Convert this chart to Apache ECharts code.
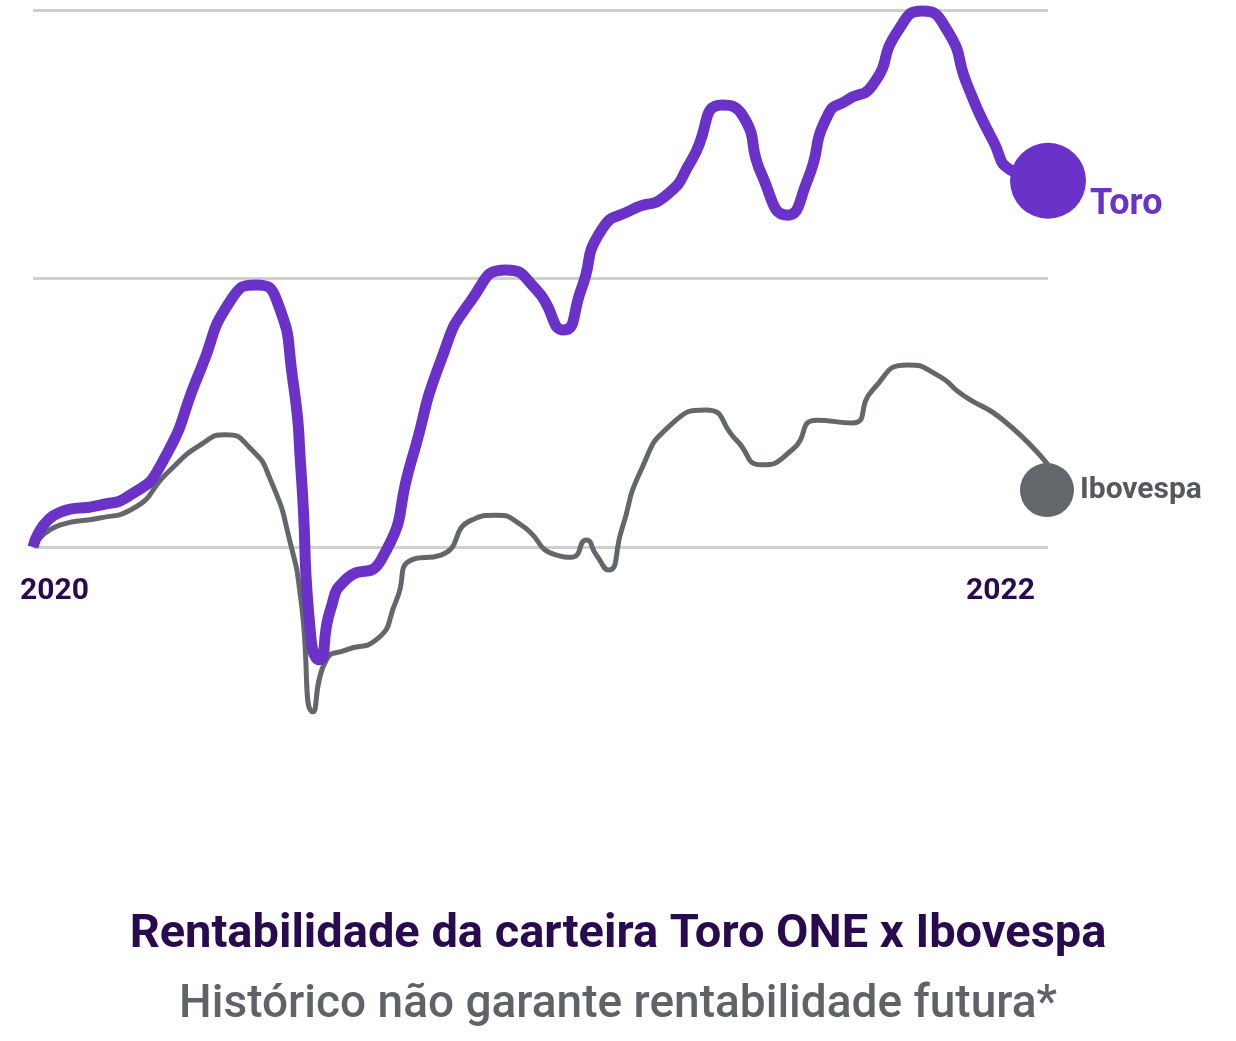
<!DOCTYPE html>
<html><head><meta charset="utf-8">
<script src="https://cdn.jsdelivr.net/npm/echarts@6/dist/echarts.min.js"></script>
<style>html,body{margin:0;padding:0;background:#fff}#c{width:1236px;height:1041px}</style>
</head><body><div id="c"></div>
<script>
// x positions (0..100 across the plot), y values (0 bottom gridline, 100 top gridline)
const toroX = [0,2.7,6.6,9.6,12.6,16.5,19.5,22.0,24.0,25.6,26.4,27.4,28.2,29.3,30.8,34.3,37.3,40.2,43.2,46.6,49.6,52.3,54.0,56.0,59.0,62.4,64.9,67.9,69.9,71.8,74.3,76.3,78.3,80.2,82.7,85.2,87.6,90.1,92.1,94.6,96.5,100];
const toroY = [0,6.5,7.8,9.7,15.3,33.0,46.0,48.8,46.0,31.1,14.3,-17.3,-21.0,-11.7,-6.1,-2.4,16.2,34.8,46.0,51.6,47.9,40.4,47.9,59.0,62.8,65.5,72.1,82.3,80.4,69.3,61.8,68.3,80.4,83.2,86.0,96.1,99.8,96.1,85.8,75.6,70.0,68.2];
const iboX = [0,2.7,6.6,9.6,13.5,16.5,19.0,21.4,23.4,25.4,26.4,27.6,28.9,30.8,33.8,35.8,37.3,40.2,43.2,45.6,48.1,51.6,53.1,54.5,55.5,56.7,58.0,59.9,62.8,66.3,69.3,71.8,74.8,77.2,80.7,82.7,86.2,89.1,91.6,95.6,100];
const iboY = [0,4.1,5.4,6.9,14.3,19.0,20.9,18.4,12.5,0.4,-9.9,-30.7,-21.0,-19.2,-17.3,-9.9,-2.4,-1.5,5.0,5.9,4.1,-1.5,-1.9,1.3,-1.5,-4.3,3.2,14.3,22.7,25.5,19.9,15.3,18.1,23.6,23.1,29.2,33.9,32.0,28.3,23.6,15.3];
const endToro = [100, 68.2];
const endIbo = [99.9, 10.6];
const seriesNames = ['Toro', 'Ibovespa'];
const yearLabels = ['2020', '2022'];
const titleText = 'Rentabilidade da carteira Toro ONE x Ibovespa';
const subText = 'Histórico não garante rentabilidade futura*';

const zip = (a,b)=>a.map((v,i)=>[v,b[i]]);
const chart = echarts.init(document.getElementById('c'));
chart.setOption({
  backgroundColor:'#fff',
  animation:false,
  grid:{left:33,right:188,top:10,bottom:494},
  xAxis:{type:'value',min:0,max:100,show:false},
  yAxis:{type:'value',min:0,max:100,interval:50,axisLabel:{show:false},axisLine:{show:false},axisTick:{show:false},
    splitLine:{lineStyle:{color:'#cfcfcf',width:3}}},
  series:[
    {type:'line',name:seriesNames[1],data:zip(iboX,iboY),smooth:0.6,symbol:'none',clip:false,
      lineStyle:{color:'#63676b',width:5}},
    {type:'line',name:seriesNames[0],data:zip(toroX,toroY),smooth:0.6,symbol:'none',clip:false,
      lineStyle:{color:'#6a32c9',width:11}},
    {type:'scatter',data:[endToro],symbolSize:76,clip:false,itemStyle:{color:'#6a32c9',opacity:1},
      label:{show:true,position:'right',distance:4,offset:[0,24],formatter:seriesNames[0],color:'#6a32c9',fontSize:36,fontWeight:'bold',fontFamily:'Roboto'}},
    {type:'scatter',data:[endIbo],symbolSize:54,clip:false,itemStyle:{color:'#63676b',opacity:1},
      label:{show:true,position:'right',distance:6,formatter:seriesNames[1],color:'#55595d',fontSize:30,fontWeight:'bold',fontFamily:'Roboto'}}
  ],
  graphic:[
    {type:'text',left:20,top:576,style:{text:yearLabels[0],fill:'#2a0a4e',font:'bold 30px Roboto'}},
    {type:'text',left:966,top:576,style:{text:yearLabels[1],fill:'#2a0a4e',font:'bold 30px Roboto'}},
    {type:'text',left:'center',top:912,style:{text:titleText,fill:'#2a0a4e',font:'bold 47px Roboto'}},
    {type:'text',left:'center',top:982,style:{text:subText,fill:'#5f6368',font:'500 46px Roboto'}}
  ]
});
</script></body></html>
